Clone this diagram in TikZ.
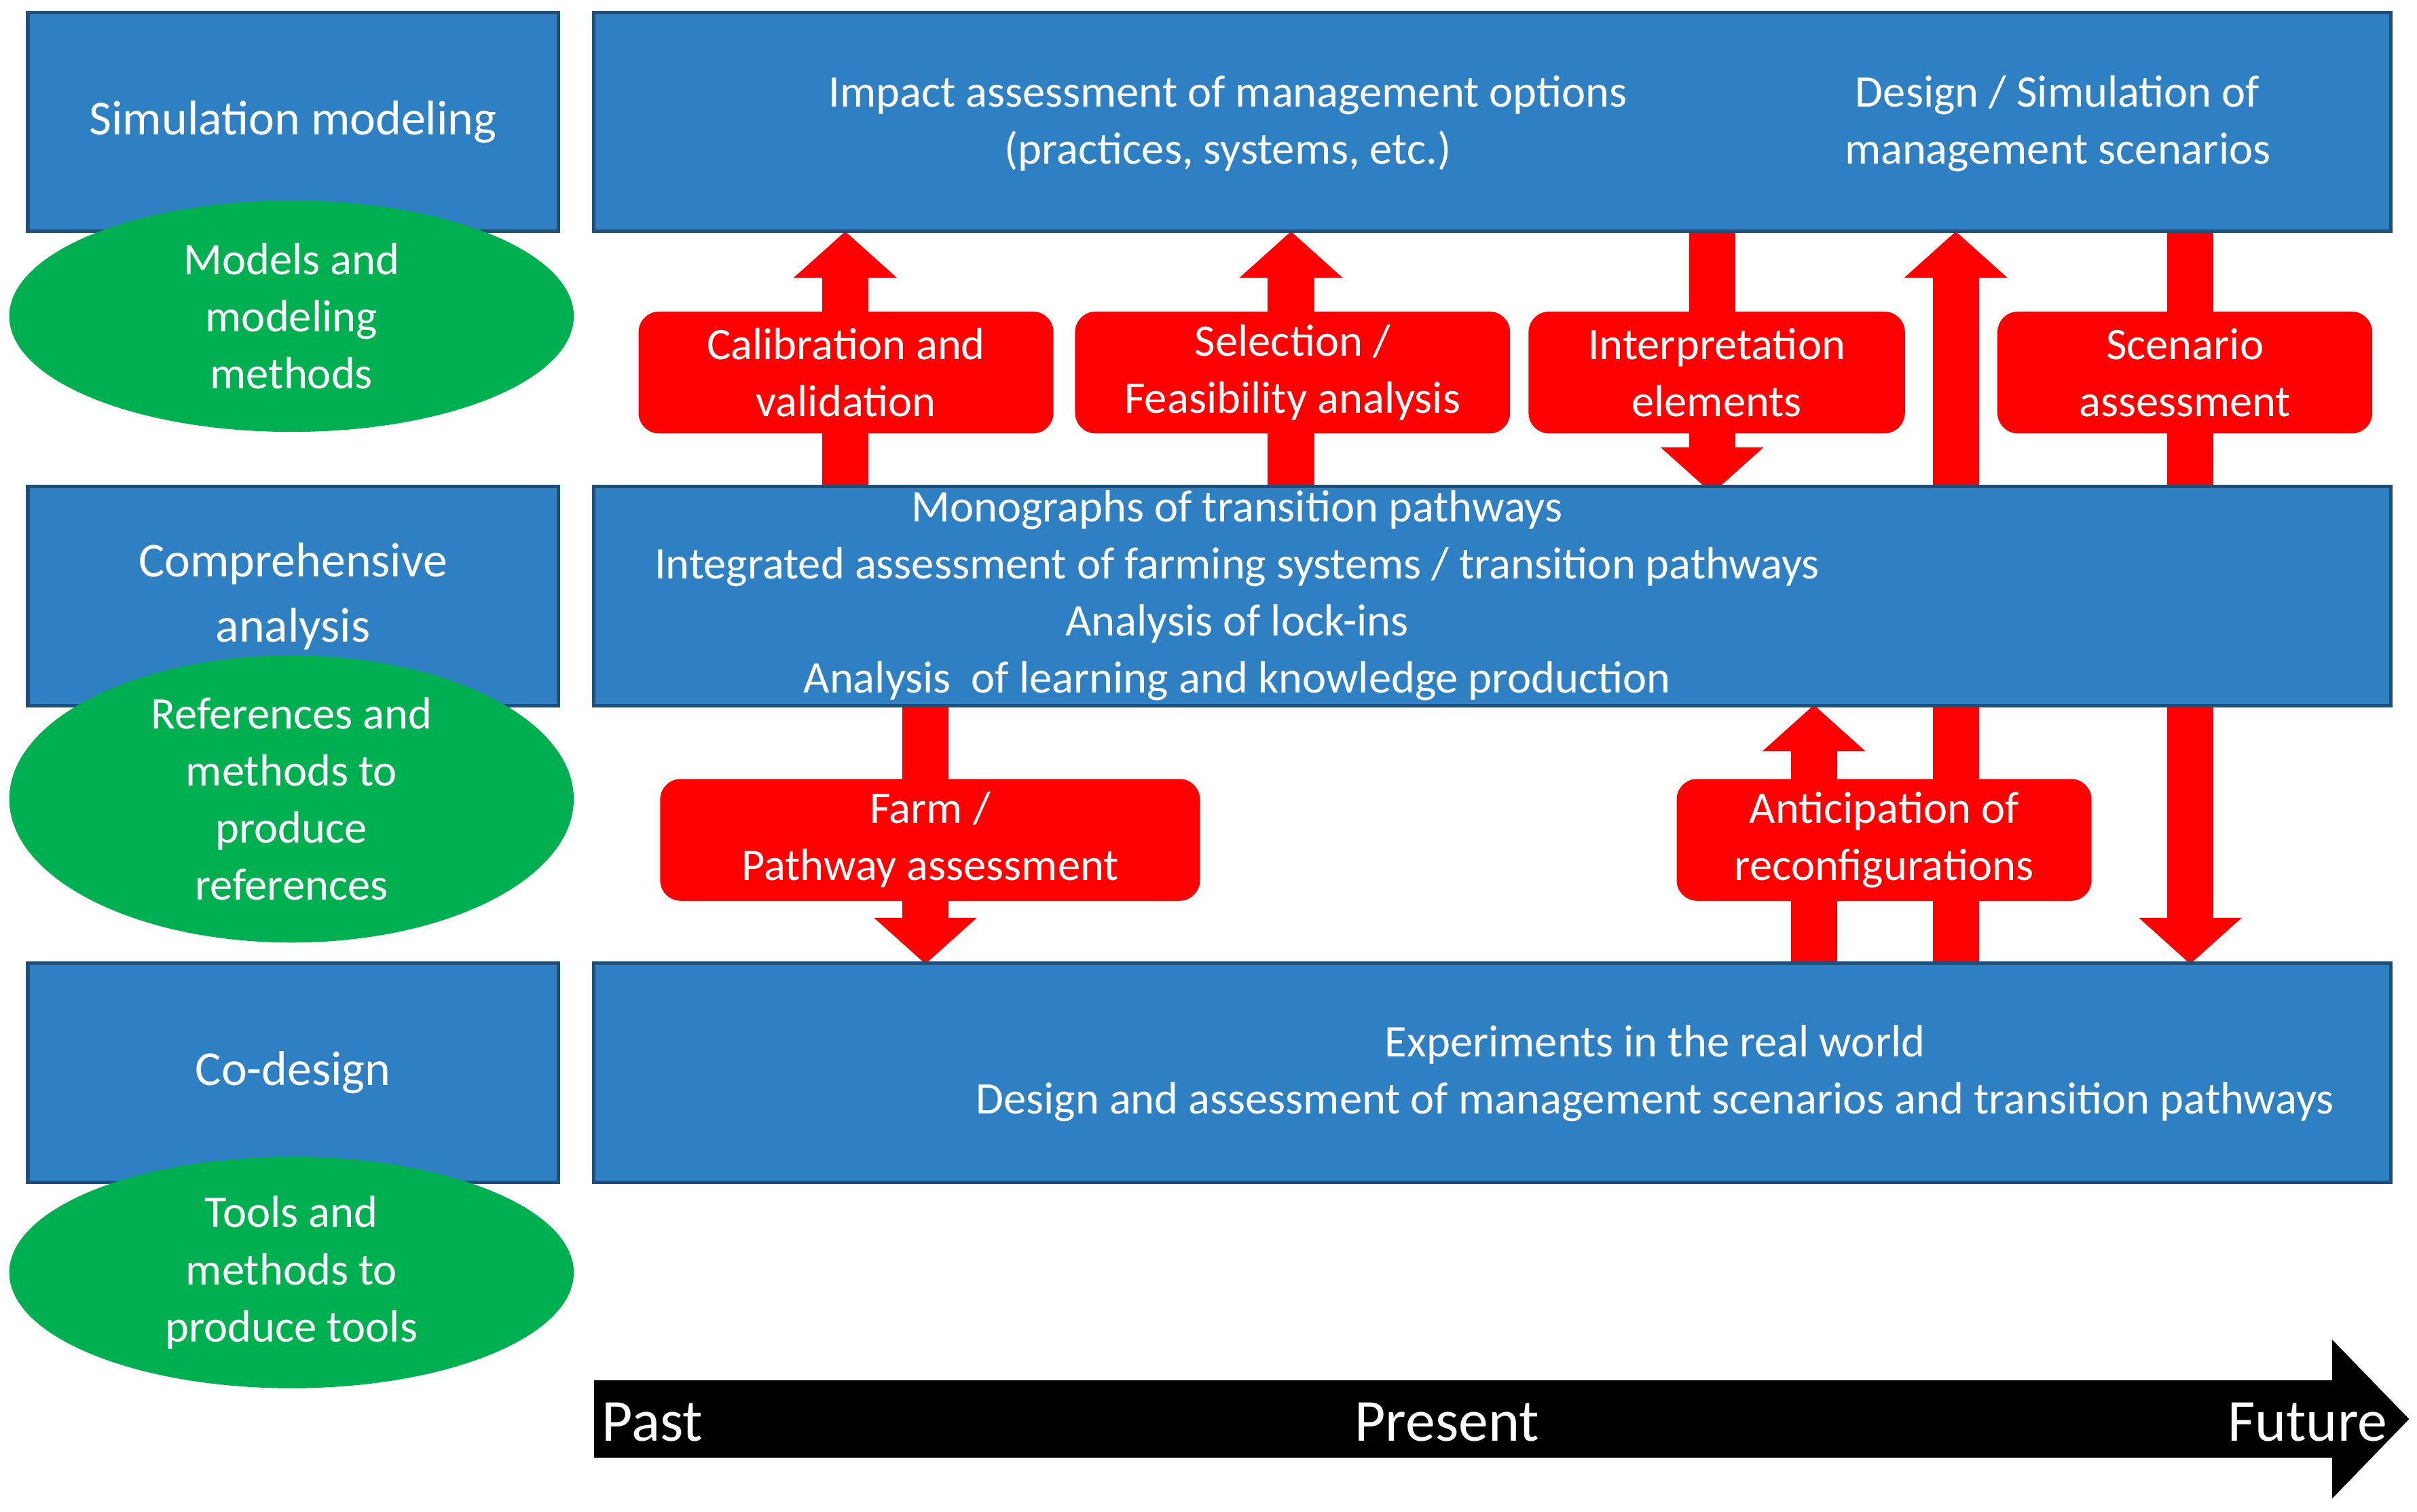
\documentclass[tikz,border=0pt]{standalone}
\usepackage{fontspec}
\setmainfont{Carlito}
\usetikzlibrary{arrows.meta,shapes.geometric}
\definecolor{bluebox}{RGB}{46,128,194}
\definecolor{blueedge}{RGB}{31,78,121}
\definecolor{grn}{RGB}{0,176,80}
\begin{document}
\begin{tikzpicture}[x=0.03cm,y=-0.03cm,
  blue/.style={draw=blueedge,line width=2pt,fill=bluebox,minimum height=4.26cm,inner sep=0pt},
  side/.style={blue,minimum width=10.32cm,text=white,align=center,font=\fontsize{27}{36}\selectfont},
  big/.style={blue,minimum width=34.95cm},
  ell/.style={ellipse,fill=grn,minimum width=10.98cm,minimum height=4.5cm,inner sep=0pt,text=white,align=center,font=\fontsize{25}{31.6}\selectfont},
  txt/.style={text=white,align=center,font=\fontsize{25}{31.6}\selectfont,inner sep=0pt},
  lab/.style={fill=red,rounded corners=0.4cm,minimum height=2.37cm,text=white,align=center,font=\fontsize{25}{31.6}\selectfont,inner sep=0pt},
  rarr/.style={red,line width=0.9cm,-{Triangle[length=0.9cm,width=1.95cm]}},
  rline/.style={red,line width=0.9cm}]
\useasboundingbox (0,0) rectangle (1567,980);
% arrow endpoints
\coordinate (a1s) at (548,316); \coordinate (a1e) at (548,150);
\coordinate (a2s) at (837,316); \coordinate (a2e) at (837,150);
\coordinate (a3s) at (1110,146); \coordinate (a3e) at (1110,320);
\coordinate (a4s) at (1268,625); \coordinate (a4e) at (1268,150);
\coordinate (a5s) at (1420,146); \coordinate (a5e) at (1420,625);
\coordinate (a6s) at (600,457); \coordinate (a6e) at (600,625);
\coordinate (a7s) at (1176,625); \coordinate (a7e) at (1176,457);
\draw[rarr] (a1s) -- (a1e);
\draw[rarr] (a2s) -- (a2e);
\draw[rarr] (a3s) -- (a3e);
\draw[rarr] (a4s) -- (a4e);
\draw[rarr] (a5s) -- (a5e);
\draw[rarr] (a6s) -- (a6e);
\draw[rarr] (a7s) -- (a7e);
% boxes
\node[side] (s1) at (190,79) {Simulation modeling};
\node[side] (s2) at (190,386.5) {Comprehensive\\analysis};
\node[side] (s3) at (190,695.5) {Co-design};
\node[big] (b1) at (967.5,79) {};
\node[big] (b2) at (967.5,386.5) {};
\node[big] (b3) at (967.5,695.5) {};
\node[ell] (e1) at (189,205) {Models and\\modeling\\methods};
\node[ell] (e2) at (189,518) {References and\\methods to\\produce\\references};
\node[ell] (e3) at (189,825) {Tools and\\methods to\\produce tools};
% texts
\node[txt] (t1) at (796,80) {Impact assessment of management options\\(practices, systems, etc.)};
\node[txt] (t2) at (1334,80) {Design / Simulation of\\management scenarios};
\node[txt] (t3) at (802,386) {Monographs of transition pathways\\Integrated assessment of farming systems / transition pathways\\Analysis of lock-ins\\Analysis\ \ of learning and knowledge production};
\node[txt] (t4) at (1073,696) {Experiments in the real world\\Design and assessment of management scenarios and transition pathways};
% labels
\node[lab,minimum width=8.07cm] (l1) at (548.5,241.5) {Calibration and\\validation};
\node[lab,minimum width=8.46cm] (l2) at (838,241.5) {Selection /\\Feasibility analysis};
\node[lab,minimum width=7.32cm] (l3) at (1113,241.5) {Interpretation\\elements};
\node[lab,minimum width=7.29cm] (l4) at (1416.5,241.5) {Scenario\\assessment};
\node[lab,minimum width=10.5cm] (l5) at (603,544.5) {Farm /\\Pathway assessment};
\node[lab,minimum width=8.07cm] (l6) at (1221.5,544.5) {Anticipation of\\reconfigurations};
% timeline
\coordinate (ts) at (385,920); \coordinate (te) at (1562,920);
\draw[black,line width=1.5cm,-{Triangle[length=1.5cm,width=3cm]}] (ts) -- (te);
\node[txt,anchor=west,font=\fontsize{33}{36}\selectfont] (past) at (390,922) {Past};
\node[txt,font=\fontsize{33}{36}\selectfont] (pres) at (938,922) {Present};
\node[txt,anchor=east,font=\fontsize{33}{36}\selectfont] (fut) at (1548,922) {Future};
\end{tikzpicture}
\end{document}
